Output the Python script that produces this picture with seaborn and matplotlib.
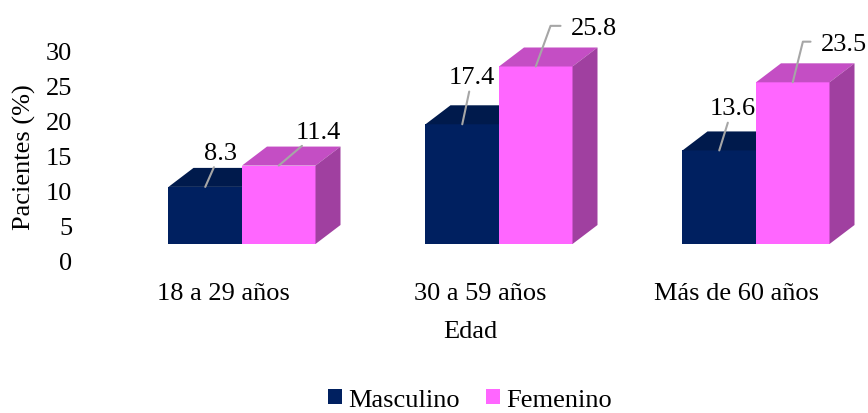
import matplotlib
matplotlib.use("Agg")
import matplotlib.pyplot as plt
from matplotlib.patches import Polygon
import seaborn as sns
import pandas as pd
import numpy as np

# ---- data ----
categories = ["18 a 29 años", "30 a 59 años", "Más de 60 años"]
series_names = ["Masculino", "Femenino"]
masculino = [8.3, 17.4, 13.6]
femenino = [11.4, 25.8, 23.5]
y_ticks = [0, 5, 10, 15, 20, 25, 30]

# ---- style ----
sns.set_style("white")
plt.rcParams["font.family"] = ["Liberation Serif", "DejaVu Serif"]
plt.rcParams["text.color"] = "black"
plt.rcParams["axes.labelcolor"] = "black"
plt.rcParams["xtick.color"] = "black"
plt.rcParams["ytick.color"] = "black"
FS = 19

front_colors = {"Masculino": "#002060", "Femenino": "#FF66FF"}
top_colors = {"Masculino": "#001A4C", "Femenino": "#C44EC4"}
side_colors = {"Masculino": "#001845", "Femenino": "#A040A0"}

df = pd.DataFrame({
    "Edad": categories * 2,
    "Sexo": [series_names[0]] * 3 + [series_names[1]] * 3,
    "Pacientes": masculino + femenino,
})

W, H = 868, 414
fig = plt.figure(figsize=(W / 100, H / 100), dpi=100)
L, R, T, B = 100, 860, 10, 270
ax = fig.add_axes([L / W, (H - B) / H, (R - L) / W, (B - T) / H])

sns.barplot(data=df, x="Edad", y="Pacientes", hue="Sexo", order=categories,
            hue_order=series_names, palette=front_colors, width=0.572,
            errorbar=None, saturation=1, ax=ax, edgecolor="none", linewidth=0)

px_per_cat = 257.0
x0_center_px = 242.0
px_per_unit = 6.88
zero_px = 245.0
ax.set_xlim((L - x0_center_px) / px_per_cat, (R - x0_center_px) / px_per_cat)
ax.set_ylim((zero_px - B) / px_per_unit, (zero_px - T) / px_per_unit)

for s in ax.spines.values():
    s.set_visible(False)
ax.set_xticks([])
ax.set_yticks([])
ax.grid(False)

# ---- 3D faces ----
dx = 25.0 / px_per_cat
dy = 19.0 / px_per_unit
for i, (name, cont) in enumerate(zip(series_names, ax.containers)):
    z = 2 + i
    for bar in cont:
        bar.set_zorder(z)
        x0 = bar.get_x(); w = bar.get_width(); h = bar.get_height()
        x1 = x0 + w
        top = Polygon([(x0, h), (x1, h), (x1 + dx, h + dy), (x0 + dx, h + dy)],
                      closed=True, facecolor=top_colors[name], edgecolor="none", zorder=z)
        side = Polygon([(x1, 0), (x1, h), (x1 + dx, h + dy), (x1 + dx, dy)],
                       closed=True, facecolor=side_colors[name], edgecolor="none", zorder=z)
        ax.add_patch(top)
        ax.add_patch(side)

# ---- data labels (offsets in pixels; elbow angle or None) ----
label_offsets = [
    [(15, 34, None), (10, 47, None), (13, 42, None)],
    [(40, 34, None), (35, 38, 70), (28, 38, 76)],
]
for i, cont in enumerate(ax.containers):
    for j, bar in enumerate(cont):
        h = bar.get_height()
        xc = bar.get_x() + bar.get_width() / 2
        ox, oy, elbow = label_offsets[i][j]
        if elbow is not None:
            ax.annotate(f"{h:.1f}", xy=(xc, h), xytext=(ox, oy), textcoords="offset pixels",
                        ha="left", va="center", fontsize=FS, zorder=10,
                        arrowprops=dict(arrowstyle="-", color="#A6A6A6", lw=1.5,
                                        connectionstyle=f"angle,angleA=0,angleB={elbow},rad=0",
                                        relpos=(0, 0.62), shrinkA=5, shrinkB=0))
        else:
            ax.annotate(f"{h:.1f}", xy=(xc, h), xytext=(ox, oy), textcoords="offset pixels",
                        ha="center", va="center", fontsize=FS, zorder=10,
                        arrowprops=dict(arrowstyle="-", color="#A6A6A6", lw=1.5,
                                        shrinkA=0, shrinkB=0))

# ---- axes (offset like the 3D back wall) ----
yoff_px = 17.0
ysc = 7.0
sec_y = ax.secondary_yaxis("left",
                           functions=(lambda y: (px_per_unit * y + yoff_px) / ysc,
                                      lambda v: (ysc * v - yoff_px) / px_per_unit))
sec_y.set_yticks(y_ticks)
sec_y.set_yticklabels([str(t) for t in y_ticks], fontsize=FS)
sec_y.tick_params(axis="y", length=0, pad=20)
for s in sec_y.spines.values():
    s.set_visible(False)

d = 19.0 / px_per_cat
sec_x = ax.secondary_xaxis("bottom", functions=(lambda x: x + d, lambda x: x - d))
sec_x.set_xticks(range(len(categories)))
sec_x.set_xticklabels(categories, fontsize=FS)
sec_x.tick_params(axis="x", length=0, pad=9)
for s in sec_x.spines.values():
    s.set_visible(False)

ax.set_xlabel("Edad", fontsize=FS)
ax.xaxis.set_label_coords((470 - L) / (R - L), (B - 321) / (B - T))
ax.set_ylabel("Pacientes (%)", fontsize=FS)
ax.yaxis.set_label_coords((36 - L) / (R - L), (B - 157) / (B - T))

# ---- legend ----
sns.move_legend(ax, "center", bbox_to_anchor=(470 / W, 1 - 401 / H),
                bbox_transform=fig.transFigure, ncol=2, frameon=False, title=None,
                fontsize=FS, handlelength=0.53, handleheight=0.53, handletextpad=0.22,
                columnspacing=1.0, borderpad=0, borderaxespad=0)

fig.savefig("out.png", dpi=100)
